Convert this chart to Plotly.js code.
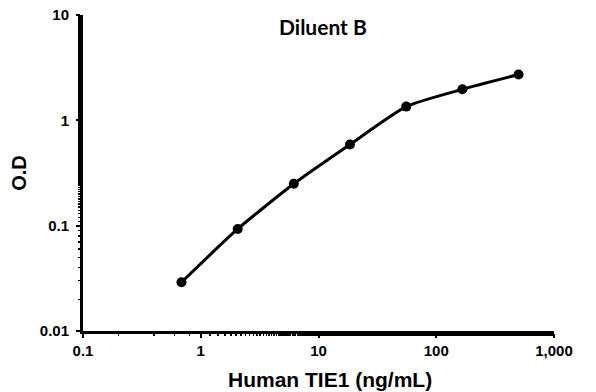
<!DOCTYPE html>
<html><head><meta charset="utf-8">
<script src="https://cdn.plot.ly/plotly-3.0.1.min.js"></script>
<style>html,body{margin:0;padding:0;background:#fff}#c{width:596px;height:392px}</style>
</head><body><div id="c"></div>
<script>
const concentration = [0.686, 2.06, 6.17, 18.5, 55.6, 166.7, 500];
const od = [0.029, 0.093, 0.25, 0.59, 1.35, 1.97, 2.72];
const xTickVals = [0.1, 1, 10, 100, 1000];
const xTickText = ['0.1', '1', '10', '100', '1,000'];
const yTickVals = [0.01, 0.1, 1, 10];
const yTickText = ['0.01', '0.1', '1', '10'];

const trace = {
  x: concentration, y: od, mode: 'lines+markers', type: 'scatter',
  line: {color: '#000', width: 3, shape: 'spline', smoothing: 0.6},
  marker: {color: '#000', size: 10},
  showlegend: false, hoverinfo: 'none'
};
const axisCommon = {
  type: 'log', showgrid: false, zeroline: false, showline: true,
  linecolor: '#000', linewidth: 3, ticks: 'outside', ticklen: 4, tickwidth: 2, tickcolor: '#000',
  tickfont: {family: 'Liberation Sans', size: 15, color: '#000', weight: 'bold'},
  minor: {ticks: 'outside', ticklen: 2, tickwidth: 1.5, tickcolor: '#000'}
};
const layout = {
  width: 596, height: 392,
  margin: {l: 83, r: 42, t: 15, b: 61},
  paper_bgcolor: '#fff', plot_bgcolor: '#fff',
  xaxis: Object.assign({}, axisCommon, {
    range: [-1, 3], tickvals: xTickVals, ticktext: xTickText
  }),
  yaxis: Object.assign({}, axisCommon, {
    range: [-2, 1], tickvals: yTickVals, ticktext: yTickText, ticklabelstandoff: 4,
    title: {text: 'O.D', standoff: 8,
      font: {family: 'Liberation Sans', size: 20, color: '#000', weight: 'bold'}}
  }),
  annotations: [{
    text: 'Diluent B', xref: 'paper', yref: 'paper', x: 0.51, y: 0.965,
    xanchor: 'center', yanchor: 'middle', showarrow: false,
    font: {family: 'Lato', size: 21, color: '#000', weight: 'bold'}
  }, {
    text: 'Human TIE1 (ng/mL)', xref: 'paper', yref: 'paper', x: 0.524, y: -0.155,
    xanchor: 'center', yanchor: 'middle', showarrow: false,
    font: {family: 'Liberation Sans', size: 21, color: '#000', weight: 'bold'}
  }]
};
Plotly.newPlot('c', [trace], layout, {staticPlot: true});
</script></body></html>
